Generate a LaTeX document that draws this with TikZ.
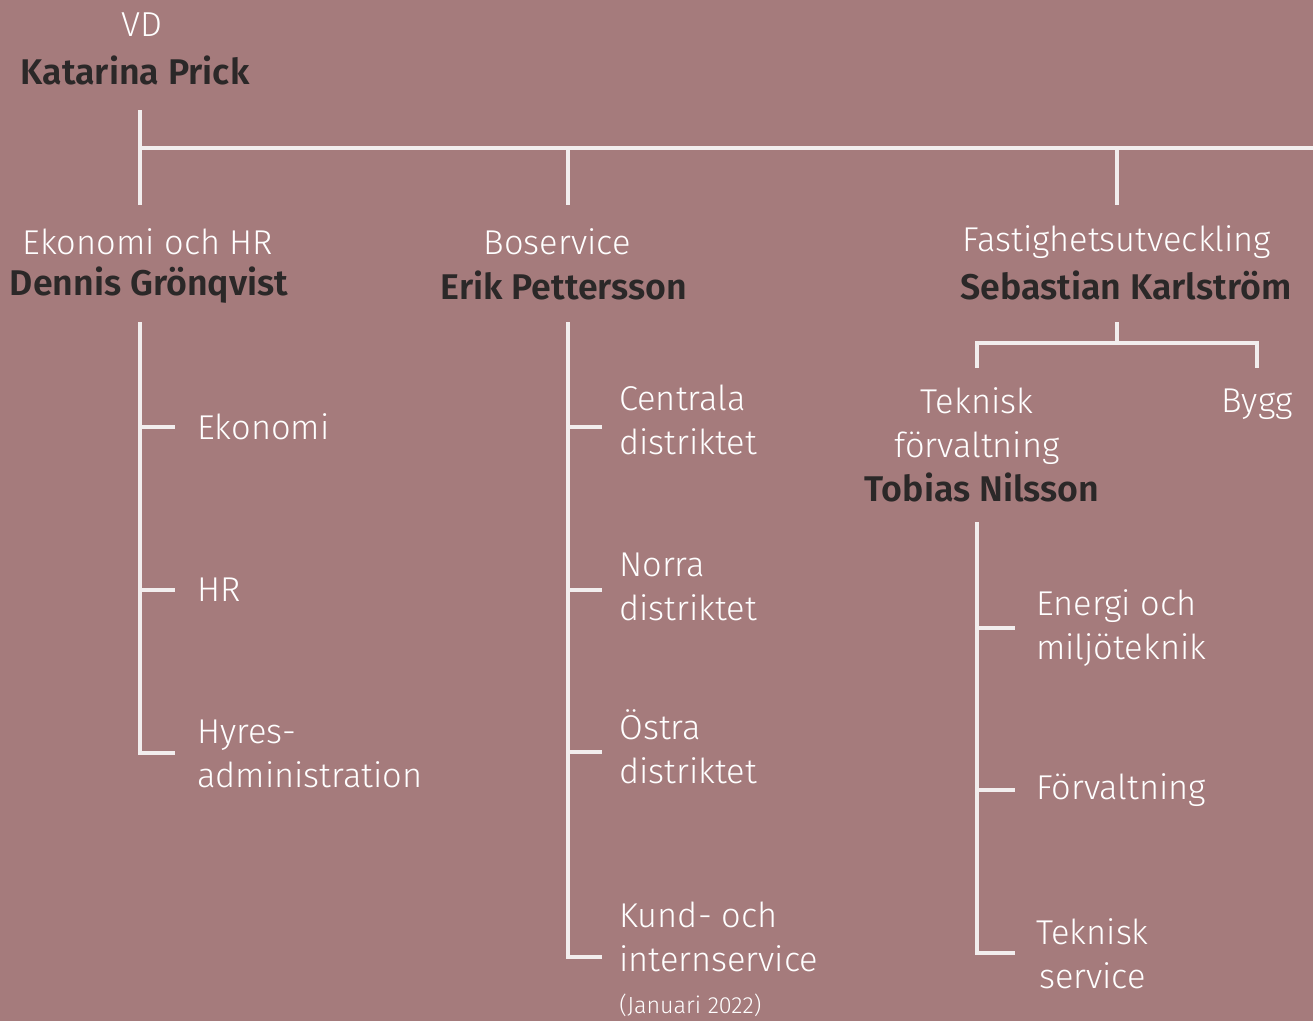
\documentclass[tikz,border=0pt]{standalone}
\usepackage{fontspec}
\setmainfont{Fira Sans}[UprightFont=* Light, BoldFont=* SemiBold]
\definecolor{bg}{HTML}{A57B7C}
\definecolor{ink}{HTML}{2B2828}
\definecolor{wline}{HTML}{F2EEEE}
\begin{document}
\begin{tikzpicture}[x=0.75pt,y=-0.75pt,
  lt/.style={text=white,inner sep=0pt,font=\fontsize{25.8}{33}\selectfont,align=left},
  nm/.style={text=ink,inner sep=0pt,font=\fontsize{26.8}{33}\selectfont\bfseries},
  ln/.style={draw=wline,line width=2.3pt}]
\fill[bg] (0,0) rectangle (1313,1021);
\useasboundingbox (0,0) rectangle (1313,1021);
% top
\node[lt,font=\fontsize{26}{28}\selectfont] (vd) at (142,25) {VD};
\node[nm] (kp) at (135,70) {Katarina Prick};
\coordinate (t0) at (140,110);
\coordinate (j0) at (140,148);
\coordinate (jr) at (1313,148);
\coordinate (j1) at (568,148);
\coordinate (j2) at (1117,148);
\coordinate (b0) at (140,205);
\coordinate (b1) at (568,205);
\coordinate (b2) at (1117,205);
\draw[ln] (t0) -- (b0);
\draw[ln] (j0) -- (jr);
\draw[ln] (j1) -- (b1);
\draw[ln] (j2) -- (b2);
% column heads
\node[lt] (eh) at (148,242) {Ekonomi och HR};
\node[nm] (dg) at (149,285) {Dennis Grönqvist};
\node[lt] (bs) at (557,242) {Boservice};
\node[nm] (ep) at (564,285) {Erik Pettersson};
\node[lt] (fu) at (1117,242) {Fastighetsutveckling};
\node[nm] (sk) at (1126,285) {Sebastian Karlström};
% Ekonomi och HR branch
\coordinate (e0) at (140,322);
\coordinate (e1) at (140,427);
\coordinate (e2) at (140,590);
\coordinate (e3) at (140,753);
\coordinate (e1r) at (175,427);
\coordinate (e2r) at (175,590);
\coordinate (e3r) at (175,753);
\draw[ln] (e0) -- (e3) -- (e3r);
\draw[ln] (e1) -- (e1r);
\draw[ln] (e2) -- (e2r);
\node[lt,anchor=west] (ek) at (197,427) {Ekonomi};
\node[lt,anchor=west] (hr) at (197,590) {HR};
\node[lt,anchor=west] (hy) at (197,754) {Hyres-\\administration};
% Boservice branch
\coordinate (s0) at (568,322);
\coordinate (s1) at (568,427);
\coordinate (s2) at (568,590);
\coordinate (s3) at (568,752);
\coordinate (s4) at (568,957);
\coordinate (s1r) at (602,427);
\coordinate (s2r) at (602,590);
\coordinate (s3r) at (602,752);
\coordinate (s4r) at (602,957);
\draw[ln] (s0) -- (s4) -- (s4r);
\draw[ln] (s1) -- (s1r);
\draw[ln] (s2) -- (s2r);
\draw[ln] (s3) -- (s3r);
\node[lt,anchor=west] (cd) at (619,420) {Centrala\\distriktet};
\node[lt,anchor=west] (nd) at (619,587) {Norra\\distriktet};
\node[lt,anchor=west] (od) at (619,747) {Östra\\distriktet};
\node[lt,anchor=west] (ki) at (619,937) {Kund- och\\internservice};
\node[lt,anchor=west,font=\fontsize{17.5}{20}\selectfont] (jan) at (619,1005) {(Januari 2022)};
% Fastighetsutveckling branch
\coordinate (f0) at (1117,322);
\coordinate (f1) at (1117,343);
\coordinate (fl) at (977,343);
\coordinate (fr) at (1257,343);
\coordinate (flb) at (977,368);
\coordinate (frb) at (1257,368);
\draw[ln] (f0) -- (f1);
\draw[ln] (flb) -- (fl) -- (fr) -- (frb);
\node[lt,align=center] (tf) at (977,426) {Teknisk\\förvaltning};
\node[nm] (tn) at (982,487) {Tobias Nilsson};
\node[lt] (by) at (1257,404) {Bygg};
% Teknisk förvaltning branch
\coordinate (g0) at (977,522);
\coordinate (g1) at (977,628);
\coordinate (g2) at (977,790);
\coordinate (g3) at (977,953);
\coordinate (g1r) at (1015,628);
\coordinate (g2r) at (1015,790);
\coordinate (g3r) at (1015,953);
\draw[ln] (g0) -- (g3) -- (g3r);
\draw[ln] (g1) -- (g1r);
\draw[ln] (g2) -- (g2r);
\node[lt,anchor=west] (em) at (1036,628) {Energi och\\miljöteknik};
\node[lt,anchor=west] (fv) at (1036,790) {Förvaltning};
\node[lt,anchor=west,align=center] (ts) at (1036,954) {Teknisk\\service};
\end{tikzpicture}
\end{document}
